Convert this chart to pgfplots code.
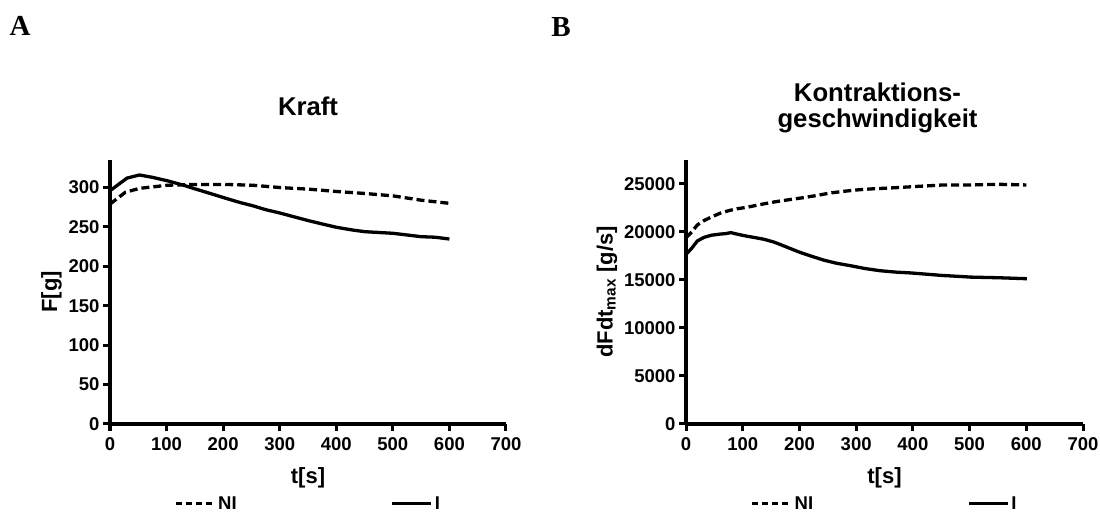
\documentclass[border=0pt]{standalone}
\usepackage{fontspec}
\setmainfont{Liberation Sans}
\newfontfamily\timesfont{Liberation Serif}
\usepackage{pgfplots}
\pgfplotsset{compat=1.18}

% Kraft, NI (dashed) and I (solid)
\pgfplotstableread{
t F
0 279
27 294
52 299
102 303
152 304
202 304
252 303
301 300
351 298
401 295
451 292.5
500 289.5
550 284
600 280
}\kraftNI
\pgfplotstableread{
t F
0 296
15 304
30 312
52 316
75 313
102 308.5
130 303
152 298
175 293
202 287
230 281
252 277
275 272
301 267.6
330 262
351 258
380 253
401 249.5
430 246
451 244
500 242
550 237.7
575 237
600 234.7
}\kraftI
% Kontraktionsgeschwindigkeit
\pgfplotstableread{
t v
0 19400
10 20000
20 20733
32 21200
45 21567
60 21950
76 22233
90 22420
107 22567
130 22850
156 23133
180 23350
206 23567
230 23800
255 24067
280 24250
305 24400
330 24500
354 24567
380 24650
403 24733
430 24820
453 24900
502 24900
552 24967
600 24900
}\dfNI
\pgfplotstableread{
t v
0 17667
10 18300
20 19067
32 19450
45 19667
60 19780
70 19833
79 19933
92 19750
107 19567
125 19380
138 19233
155 18950
169 18633
185 18250
200 17900
220 17500
243 17067
265 16750
292 16467
315 16200
342 15967
370 15820
397 15733
425 15600
453 15467
480 15380
502 15300
552 15233
601 15133
}\dfI

\tikzset{ttl/.style={font=\fontsize{25.7}{26}\selectfont\bfseries, anchor=base}}
\pgfplotsset{
  panel/.style={
    scale only axis, anchor=south west,
    width=396pt, height=264pt,
    axis x line=bottom, axis y line=left,
    axis line style={line width=3.5pt, -},
    xmin=0, xmax=700, xtick={0,100,...,700},
    tick align=outside, major tick length=7pt,
    tick style={line width=3pt, black},
    ticklabel style={font=\fontsize{18.5}{22}\selectfont\bfseries},
    xticklabel style={yshift=-3pt},
    /pgf/number format/assume math mode=true,
    /pgf/number format/1000 sep={},
    label style={font=\fontsize{22}{26}\selectfont\bfseries},
    xlabel={t[s]},
    xlabel style={yshift=-10pt},
    legend columns=2,
    legend style={draw=none, fill=none, at={(0.5,-0.302)}, anchor=center,
      inner sep=1pt,
      font=\fontsize{18.5}{20}\selectfont\bfseries,
      /tikz/every even column/.append style={column sep=152pt}},
    legend image code/.code={\draw[#1] (0pt,0pt) -- (39pt,0pt);},
    clip=false,
  },
  nidash/.style={line width=3.3pt, black, dash pattern=on 8pt off 4pt,
    legend image post style={dash pattern=on 6pt off 4pt}},
  isolid/.style={line width=3.3pt, black},
}

\begin{document}
\begin{tikzpicture}[x=1pt,y=1pt]
\useasboundingbox (0,0) rectangle (1100,516);
\node[font=\timesfont\bfseries\fontsize{29}{32}\selectfont] at (20,490) {A};
\node[font=\timesfont\bfseries\fontsize{29}{32}\selectfont] at (561,489) {B};

\begin{axis}[panel, at={(110pt,92pt)},
  ymin=0, ymax=335, ytick={0,50,...,300},
  ylabel={F[g]}]
\addplot[nidash] table[x=t,y=F] {\kraftNI};
\addlegendentry{NI}
\addplot[isolid] table[x=t,y=F] {\kraftI};
\addlegendentry{I}
\node[ttl] at (rel axis cs:0.5,1) [yshift=44pt] {Kraft};
\end{axis}

\begin{axis}[panel, at={(686pt,92pt)}, width=397pt,
  ymin=0, ymax=27500, ytick={0,5000,...,25000},
  scaled y ticks=false,
  ylabel={dFdt\textsubscript{max} [g/s]}]
\addplot[nidash] table[x=t,y=v] {\dfNI};
\addlegendentry{NI}
\addplot[isolid] table[x=t,y=v] {\dfI};
\addlegendentry{I}
\node[ttl] at (rel axis cs:0.5,1) [yshift=58pt, xshift=-7pt] {Kontraktions-};
\node[ttl] at (rel axis cs:0.5,1) [yshift=32pt, xshift=-7pt] {geschwindigkeit};
\end{axis}
\end{tikzpicture}
\end{document}
